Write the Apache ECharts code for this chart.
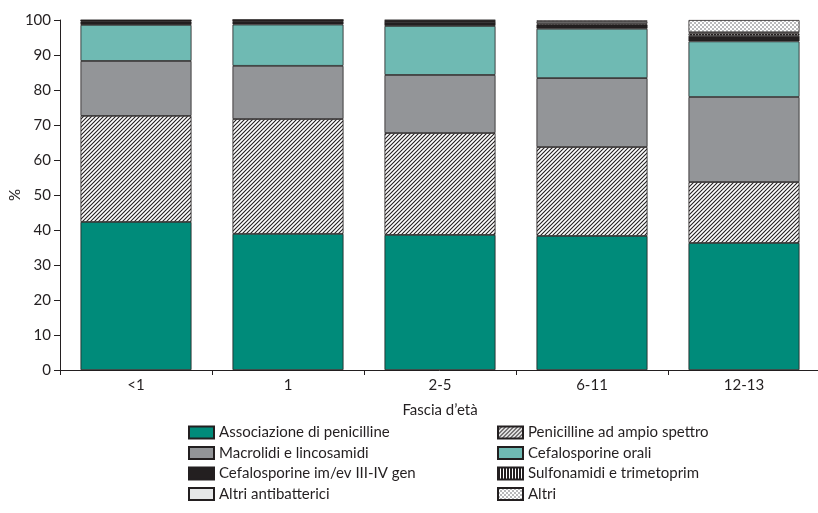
<!DOCTYPE html>
<html>
<head>
<meta charset="utf-8">
<script src="https://cdn.jsdelivr.net/npm/echarts@6/dist/echarts.min.js"></script>
<style>
  html, body { margin: 0; padding: 0; background: #fff; }
  #chart { width: 818px; height: 513px; }
</style>
</head>
<body>
<div id="chart"></div>
<script>
const categories = ["<1", "1", "2-5", "6-11", "12-13"];
const associazione = [42.3, 38.9, 38.6, 38.3, 36.3];
const penicillineAmpio = [30.3, 32.8, 29.1, 25.4, 17.4];
const macrolidi = [15.7, 15.2, 16.6, 19.7, 24.3];
const cefalosporineOrali = [10.3, 11.8, 14.0, 14.1, 15.9];
const cefalosporineIm = [1.0, 1.0, 1.2, 1.2, 1.6];
const sulfonamidi = [0.2, 0.2, 0.1, 0.3, 0.6];
const altriAntibatterici = [0.1, 0.1, 0.3, 0.5, 0.4];
const altri = [0.1, 0.0, 0.1, 0.4, 3.5];
const yTicks = [0, 10, 20, 30, 40, 50, 60, 70, 80, 90, 100];

const font = "Lato";
const dark = "#231f20";

// small canvas patterns for the hatched fills
const makePattern = (size, draw) => {
  const c = document.createElement("canvas");
  c.width = size;
  c.height = size;
  draw(c.getContext("2d"), size);
  return { image: c, repeat: "repeat" };
};

const hatch = makePattern(4, (ctx, s) => {
  ctx.fillStyle = "#fff";
  ctx.fillRect(0, 0, s, s);
  ctx.strokeStyle = dark;
  ctx.lineWidth = 1.1;
  ctx.beginPath();
  ctx.moveTo(-1, s + 1);
  ctx.lineTo(s + 1, -1);
  ctx.moveTo(-1, 1);
  ctx.lineTo(1, -1);
  ctx.moveTo(s - 1, s + 1);
  ctx.lineTo(s + 1, s - 1);
  ctx.stroke();
});

const stripes = makePattern(3, (ctx, s) => {
  ctx.fillStyle = dark;
  ctx.fillRect(0, 0, s, s);
  ctx.fillStyle = "#fff";
  ctx.fillRect(2, 0, 1, s);
});

const checker = makePattern(4, (ctx, s) => {
  ctx.fillStyle = "#fff";
  ctx.fillRect(0, 0, s, s);
  ctx.fillStyle = "#b8b9bb";
  ctx.fillRect(0, 0, 2, 2);
  ctx.fillRect(2, 2, 2, 2);
});

const series = [
  { name: "Associazione di penicilline", data: associazione, color: "#008b7a" },
  { name: "Penicilline ad ampio spettro", data: penicillineAmpio, color: hatch },
  { name: "Macrolidi e lincosamidi", data: macrolidi, color: "#939598" },
  { name: "Cefalosporine orali", data: cefalosporineOrali, color: "#6fbab3" },
  { name: "Cefalosporine im/ev III-IV gen", data: cefalosporineIm, color: dark },
  { name: "Sulfonamidi e trimetoprim", data: sulfonamidi, color: stripes },
  { name: "Altri antibatterici", data: altriAntibatterici, color: "#e6e7e8" },
  { name: "Altri", data: altri, color: checker }
].map((s) => ({
  name: s.name,
  type: "bar",
  stack: "tot",
  barWidth: 111,
  data: s.data,
  itemStyle: { color: s.color, borderColor: dark, borderWidth: 0.8 }
}));

const legendBase = {
  orient: "vertical",
  top: 425,
  height: 88,
  padding: 0,
  itemWidth: 25,
  itemHeight: 12,
  itemGap: 5.5,
  icon: "rect",
  selectedMode: false,
  textStyle: { fontFamily: font, fontSize: 15, lineHeight: 14, color: dark }
};

const chart = echarts.init(document.getElementById("chart"), null, { renderer: "canvas" });
chart.setOption({
  animation: false,
  backgroundColor: "#fff",
  grid: { left: 60, top: 20, width: 760, height: 350, containLabel: false, outerBoundsMode: "none" },
  legend: [
    Object.assign({}, legendBase, {
      left: 188,
      data: ["Associazione di penicilline", "Macrolidi e lincosamidi", "Cefalosporine im/ev III-IV gen", "Altri antibatterici"]
    }),
    Object.assign({}, legendBase, {
      left: 497,
      data: ["Penicilline ad ampio spettro", "Cefalosporine orali", "Sulfonamidi e trimetoprim", "Altri"]
    })
  ],
  xAxis: {
    type: "category",
    data: categories,
    name: "Fascia d\u2019età",
    nameLocation: "middle",
    nameGap: 33,
    nameMoveOverlap: false,
    nameTextStyle: { fontFamily: font, fontSize: 15, color: dark },
    axisLine: { lineStyle: { color: dark, width: 1 } },
    axisTick: { show: true, length: 5, lineStyle: { color: dark } },
    axisLabel: { fontFamily: font, fontSize: 15, color: dark, margin: 8 }
  },
  yAxis: {
    type: "value",
    min: 0,
    max: yTicks[yTicks.length - 1],
    interval: 10,
    name: "%",
    nameLocation: "middle",
    nameGap: 37,
    nameMoveOverlap: false,
    nameTextStyle: { fontFamily: font, fontSize: 15, color: dark },
    axisLine: { show: true, lineStyle: { color: dark, width: 1 } },
    axisTick: { show: true, length: 6, lineStyle: { color: dark } },
    splitLine: { show: false },
    axisLabel: { fontFamily: font, fontSize: 15, color: dark, margin: 9 }
  },
  series: series
});
</script>
</body>
</html>
